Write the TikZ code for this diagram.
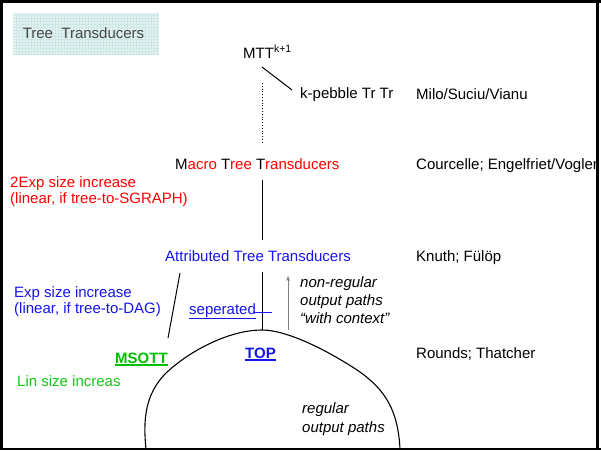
\documentclass[tikz,border=0pt]{standalone}
\usepackage{fontspec}
\setmainfont{Liberation Sans}
\usetikzlibrary{arrows.meta}
\definecolor{slred}{RGB}{255,0,0}
\definecolor{slblue}{RGB}{20,20,235}
\definecolor{slgreen}{RGB}{0,190,0}
\definecolor{sllime}{RGB}{20,200,20}
\definecolor{titlefill}{RGB}{228,242,242}
\definecolor{titlegrid}{RGB}{205,230,230}
\definecolor{titletext}{RGB}{70,70,70}
\newcommand{\ulbox}[2]{\leavevmode\vtop{\hbox{#2}\kern1.2pt\hrule height #1}}
\begin{document}
\begin{tikzpicture}[x=1pt,y=-1pt,
  lbl/.style={anchor=base west,inner sep=0pt,font=\fontsize{15}{18}\selectfont},
  itl/.style={lbl,font=\fontsize{15}{18}\selectfont\itshape},
  link/.style={line width=1pt,black},
  titlebox/.style={minimum width=146pt,minimum height=41pt,inner sep=0pt,
    fill=titlefill,text=titletext,font=\fontsize{15}{18}\selectfont,
    path picture={\draw[titlegrid,line width=0.3pt,step=3pt]
      (path picture bounding box.south west) grid (path picture bounding box.north east);}}]
\useasboundingbox (0,0) rectangle (601,450);

% frame
\draw[line width=3pt] (1.5,0) -- (1.5,450);
\draw[line width=3pt] (0,1.5) -- (601,1.5);
\draw[line width=3.5pt] (597.5,0) -- (597.5,450);
\draw[line width=2pt] (0,449) -- (601,449);

% heading
\node[titlebox] (title) at (86,33.5) {\hspace*{-5pt}Tree\ \ Transducers};

% hierarchy labels
\node[lbl] (mtt) at (243,58) {MTT\textsuperscript{k+1}};
\node[lbl] (kpeb) at (300,98) {k-pebble Tr Tr};
\node[lbl] (macro) at (175,169) {M\textcolor{slred}{acro }T\textcolor{slred}{ree }T\textcolor{slred}{ransducers}};
\node[lbl,text=slblue] (att) at (165,261) {Attributed Tree Transducers};
\node[lbl,text=slblue,font=\fontsize{15}{18}\selectfont\bfseries] (top) at (245,358) {\ulbox{2pt}{TOP}};
\node[lbl,text=slgreen,font=\fontsize{15}{18}\selectfont\bfseries] (msott) at (115,363) {\ulbox{2pt}{MSOTT}};
\node[lbl,text=slblue] (sep) at (189,314) {\ulbox{1pt}{seperated}};

% authors
\node[lbl] (milo) at (416,99) {Milo/Suciu/Vianu};
\node[lbl] (cour) at (416,169) {Courcelle; Engelfriet/Vogler};
\node[lbl] (knuth) at (416,261) {Knuth; Fülöp};
\node[lbl] (rounds) at (416,358) {Rounds; Thatcher};

% size remarks
\node[lbl,text=slred] (exp2a) at (10,187) {2Exp size increase};
\node[lbl,text=slred] (exp2b) at (10,203) {(linear, if tree-to-SGRAPH)};
\node[lbl,text=slblue] (exp1a) at (14,297) {Exp size increase};
\node[lbl,text=slblue] (exp1b) at (14,313) {(linear, if tree-to-DAG)};
\node[lbl,text=sllime] (lin) at (17,386) {Lin size increas};

% output path remarks
\node[itl] (nr1) at (300,287) {non-regular};
\node[itl] (nr2) at (300,305) {output paths};
\node[itl] (nr3) at (300,323) {“with context”};
\node[itl] (rg1) at (302,413) {regular};
\node[itl] (rg2) at (302,432) {output paths};

% connector end points
\coordinate (mttfoot) at (262,67);
\coordinate (kpebhead) at (292,90);
\coordinate (dotA) at (262,83);
\coordinate (dotB) at (262,143);
\coordinate (macrofoot) at (262,180);
\coordinate (atthead) at (262,240);
\coordinate (attfoot) at (262,272);
\coordinate (peak) at (262,330);
\coordinate (leftbend) at (165,374);
\coordinate (rightbend) at (360,372);
\coordinate (leftfoot) at (146,449);
\coordinate (rightfoot) at (400,449);
\coordinate (slantA) at (180,273);
\coordinate (slantB) at (168,338);
\coordinate (cutA) at (253,312);
\coordinate (cutB) at (272,312);
\coordinate (arrA) at (288,330);
\coordinate (arrB) at (288,276);

% connectors
\draw[link] (mttfoot) -- (kpebhead);
\draw[black,line width=0.8pt,dotted] (dotA) -- (dotB);
\draw[link] (macrofoot) -- (atthead);
\draw[link] (attfoot) -- (peak);
\draw[link] (slantA) -- (slantB);
\draw[slblue,line width=1pt] (cutA) -- (cutB);
\draw[gray,line width=1pt,-{Stealth[length=5pt,width=4pt]}] (arrA) -- (arrB);

% region of top-down transducers
\draw[link,line width=1.1pt] (leftfoot) .. controls (143,420) and (145,395) .. (leftbend)
  .. controls (190,350) and (230,330) .. (peak)
  .. controls (290,330) and (335,355) .. (rightbend)
  .. controls (385,390) and (398,410) .. (rightfoot);
\end{tikzpicture}
\end{document}
